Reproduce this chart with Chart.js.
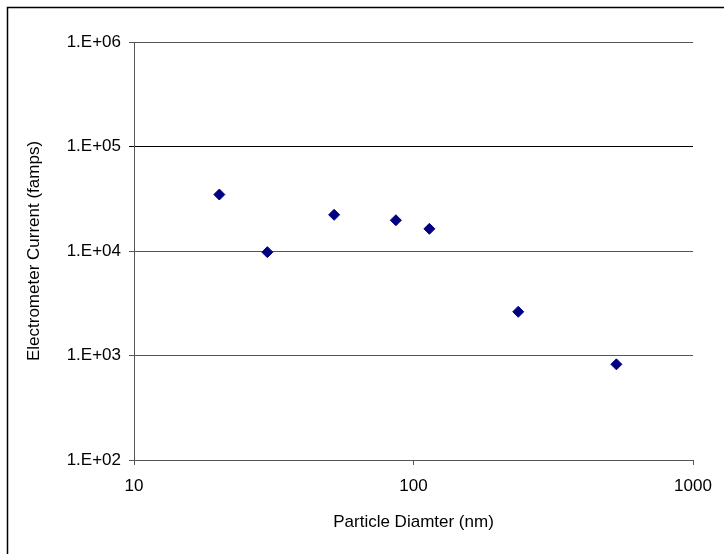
<!DOCTYPE html>
<html>
<head>
<meta charset="utf-8">
<script src="https://cdn.jsdelivr.net/npm/chart.js@4/dist/chart.umd.min.js"></script>
<style>
  html, body { margin: 0; padding: 0; background: #fff; }
  #grafica { display: block; }
</style>
</head>
<body>
<canvas id="grafica" width="724" height="554"></canvas>
<script>
// Diametro de particula (nm) y corriente del electrometro (famps)
const diametros = [20.2, 30, 52, 86.5, 114, 237, 532];
const corrientes = [34700, 9750, 22200, 19700, 16300, 2620, 823];

const ticksX = [10, 100, 1000];
const ticksY = [1e2, 1e3, 1e4, 1e5, 1e6];

const fuente = { family: '"Liberation Sans", Arial, sans-serif', size: 17 };

function etiquetaExp(v) {
  const e = Math.round(Math.log10(v));
  return '1.E+' + String(e).padStart(2, '0');
}

// marco exterior (solo lados superior e izquierdo visibles)
const marco = {
  id: 'marco',
  afterDraw(chart) {
    const ctx = chart.ctx;
    ctx.save();
    ctx.strokeStyle = '#000';
    ctx.lineWidth = 1.5;
    ctx.beginPath();
    ctx.moveTo(7.5, 554);
    ctx.lineTo(7.5, 7.5);
    ctx.lineTo(724, 7.5);
    ctx.stroke();
    ctx.restore();
  }
};

const puntos = diametros.map((d, i) => ({ x: d, y: corrientes[i] }));

new Chart(document.getElementById('grafica').getContext('2d'), {
  type: 'scatter',
  data: {
    datasets: [{
      data: puntos,
      pointStyle: 'rectRot',
      pointRadius: 5.5,
      borderWidth: 1,
      backgroundColor: '#000080',
      borderColor: '#000080'
    }]
  },
  options: {
    responsive: false,
    animation: false,
    layout: { padding: { left: 0, top: 42, right: 31, bottom: 0 } },
    plugins: {
      legend: { display: false },
      tooltip: { enabled: false }
    },
    scales: {
      x: {
        type: 'logarithmic',
        min: 10,
        max: 1000,
        afterBuildTicks: s => { s.ticks = ticksX.map(v => ({ value: v })); },
        afterFit: s => { s.height = 94; },
        grid: { drawOnChartArea: false, drawTicks: true, tickLength: 5, color: '#555' },
        border: { color: '#555', width: 1 },
        ticks: { font: fuente, color: '#000', padding: 11, maxRotation: 0, callback: v => String(v) },
        title: { display: true, text: 'Particle Diamter (nm)', font: fuente, color: '#000', padding: { top: 16, bottom: 21 } }
      },
      y: {
        type: 'logarithmic',
        min: 100,
        max: 1e6,
        afterBuildTicks: s => { s.ticks = ticksY.map(v => ({ value: v })); },
        afterFit: s => { s.width = 134; },
        grid: {
          drawTicks: true,
          tickLength: 5,
          color: c => (c.tick && c.tick.value === 1e5 ? '#000' : '#555')
        },
        border: { color: '#555', width: 1 },
        ticks: { font: fuente, color: '#000', padding: 8, callback: v => etiquetaExp(v) },
        title: { display: true, text: 'Electrometer Current (famps)', font: fuente, color: '#000', padding: { top: 24, bottom: 4 } }
      }
    }
  },
  plugins: [marco]
});
</script>
</body>
</html>
